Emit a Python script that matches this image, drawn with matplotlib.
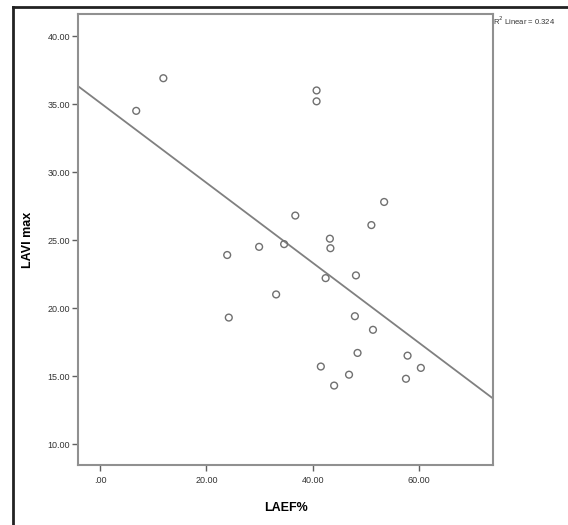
import numpy as np
import matplotlib
matplotlib.use('Agg')
import matplotlib.pyplot as plt
from matplotlib.lines import Line2D

plt.rcParams['font.family'] = ['Liberation Sans', 'DejaVu Sans']

# LAEF% vs LAVI max (값은 그림에서 읽음)
laef = [6.8, 11.9, 40.7, 40.7, 53.4, 36.7, 51.0, 43.2, 43.3, 34.6, 29.9, 23.9, 42.4,
        48.1, 33.1, 24.2, 47.9, 51.3, 48.4, 57.8, 41.5, 60.3, 46.8, 57.5, 44.0]
lavi = [34.5, 36.9, 36.0, 35.2, 27.8, 26.8, 26.1, 25.1, 24.4, 24.7, 24.5, 23.9, 22.2,
        22.4, 21.0, 19.3, 19.4, 18.4, 16.7, 16.5, 15.7, 15.6, 15.1, 14.8, 14.3]

x_ticks = [0, 20, 40, 60]
x_ticklabels = ['.00', '20.00', '40.00', '60.00']
y_ticks = [10, 15, 20, 25, 30, 35, 40]
y_ticklabels = ['10.00', '15.00', '20.00', '25.00', '30.00', '35.00', '40.00']
r2_text = 'R$^2$ Linear = 0.324'

xlim = (-4.08, 73.8)
ylim = (8.46, 41.62)

fig = plt.figure(figsize=(5.68, 5.25), dpi=100)
ax = fig.add_axes([0.1379, 0.1143, 0.7295, 0.859])

# 선형 회귀선 (SPSS fit line)
slope, icpt = np.polyfit(laef, lavi, 1)
xs = np.array(xlim)
ax.plot(xs, icpt + slope * xs, color='#808080', lw=1.3, zorder=2)

ax.scatter(laef, lavi, s=24, facecolors='none', edgecolors='#707070', linewidths=1.0, zorder=3)

ax.set_xlim(xlim)
ax.set_ylim(ylim)
ax.set_xticks(x_ticks)
ax.set_xticklabels(x_ticklabels)
ax.set_yticks(y_ticks)
ax.set_yticklabels(y_ticklabels)
ax.tick_params(axis='both', direction='out', length=4, width=1, color='#606060',
               labelsize=6.5, labelcolor='#333333', pad=2)
ax.tick_params(axis='x', pad=4)

for sp in ax.spines.values():
    sp.set_color('#909090')
    sp.set_linewidth(1.5)

ax.set_xlabel('LAEF%', fontsize=9, fontweight='bold', labelpad=12)
ax.set_ylabel('LAVI max', fontsize=9, fontweight='bold', labelpad=10)

fig.text(0.8685, 0.973, r2_text, fontsize=5.5, color='#333333', ha='left', va='top')

# 바깥 테두리
fx = 12.7 / 568
fy = 1 - 6.7 / 525
fig.add_artist(Line2D([fx, fx], [0, fy], transform=fig.transFigure, color='#222222', lw=2))
fig.add_artist(Line2D([fx, 1], [fy, fy], transform=fig.transFigure, color='#222222', lw=2))

fig.savefig('out.png', dpi=100)
